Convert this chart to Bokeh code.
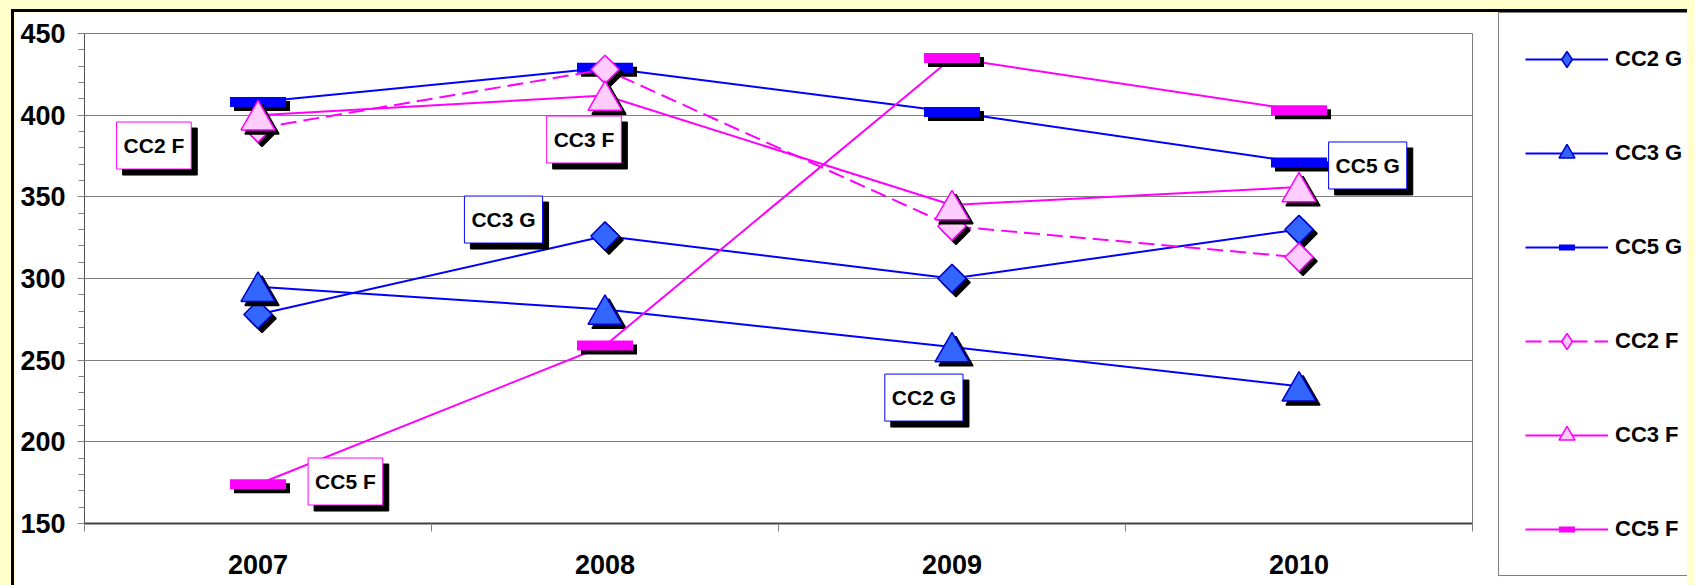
import math
from bokeh.plotting import figure
from bokeh.layouts import row
from bokeh.models import (Range1d, FixedTicker, ColumnDataSource, Legend,
                          LegendItem, Label)
from bokeh.transform import dodge
from bokeh.embed import file_html
from bokeh.resources import INLINE

# ---------------- data ----------------
years = ["2007", "2008", "2009", "2010"]
cc2_g = [278, 326, 300, 330]
cc3_g = [295, 281, 258, 234]
cc5_g = [408, 429, 402, 371]
cc2_f = [392, 428, 332, 313]
cc3_f = [400, 412, 345, 356]
cc5_f = [174, 259, 435, 403]
series_names = ["CC2 G", "CC3 G", "CC5 G", "CC2 F", "CC3 F", "CC5 F"]
series_values = [cc2_g, cc3_g, cc5_g, cc2_f, cc3_f, cc5_f]
y_ticks = [150, 200, 250, 300, 350, 400, 450]

# ---------------- style ----------------
FONT = "Liberation Sans"
BLUE, BFILL, BEDGE = "#0000FF", "#3366FF", "#0000CC"
MAG, PFILL = "#FF00FF", "#FFCCFF"
GRID = "#808080"

styles = {
    "CC2 G": dict(color=BLUE, dash="solid", kind="diamond", fill=BFILL, edge=BEDGE),
    "CC3 G": dict(color=BLUE, dash="solid", kind="triangle", fill=BFILL, edge=BEDGE),
    "CC5 G": dict(color=BLUE, dash="solid", kind="bar", fill=BLUE, edge=BLUE),
    "CC2 F": dict(color=MAG, dash="16 7", kind="diamond", fill=PFILL, edge=MAG),
    "CC3 F": dict(color=MAG, dash="solid", kind="triangle", fill=PFILL, edge=MAG),
    "CC5 F": dict(color=MAG, dash="solid", kind="bar", fill=MAG, edge=MAG),
}

# layout (px)
W_MAIN, W_LEG, H = 1483, 230, 573
FRAME_W, FRAME_H = 1388, 490
B_LEFT, B_TOP = 70, 21
B_RIGHT = W_MAIN - B_LEFT - FRAME_W
B_BOTTOM = H - B_TOP - FRAME_H

Y0, Y1 = 150, 450
PX_X = FRAME_W / len(years)          # px per category
PX_Y = FRAME_H / (Y1 - Y0)           # px per value unit

p = figure(width=W_MAIN, height=H, output_backend="svg", toolbar_location=None,
           x_range=Range1d(0, len(years)), y_range=Range1d(Y0, Y1),
           min_border_left=B_LEFT, min_border_right=B_RIGHT,
           min_border_top=B_TOP, min_border_bottom=B_BOTTOM,
           background_fill_color="white", border_fill_color="white",
           outline_line_color=GRID, outline_line_width=1)
p.frame_align = False

xs = [i + 0.5 for i in range(len(years))]

# axes
xa = p.xaxis[0]
xa.ticker = FixedTicker(ticks=xs, minor_ticks=list(range(len(years) + 1)))
xa.major_label_overrides = {x: y for x, y in zip(xs, years)}
xa.major_tick_line_color = None
xa.major_tick_out = 8
xa.major_tick_in = 0
xa.minor_tick_line_color = GRID
xa.minor_tick_out = 8
xa.minor_tick_in = 0
xa.axis_line_color = "#404040"
xa.axis_line_width = 2
xa.major_label_text_font = FONT
xa.major_label_text_font_style = "bold"
xa.major_label_text_font_size = "27px"
xa.major_label_text_color = "black"
xa.major_label_standoff = 23

ya = p.yaxis[0]
ya.ticker = FixedTicker(ticks=y_ticks, minor_ticks=list(range(Y0, Y1 + 1, 10)))
ya.major_tick_out = 7
ya.major_tick_in = 0
ya.minor_tick_out = 6
ya.minor_tick_in = 0
ya.major_tick_line_color = GRID
ya.minor_tick_line_color = GRID
ya.axis_line_color = "#505050"
ya.axis_line_width = 1
ya.major_label_text_font = FONT
ya.major_label_text_font_style = "bold"
ya.major_label_text_font_size = "27px"
ya.major_label_text_color = "black"
ya.major_label_standoff = 12

p.xgrid.visible = False
p.ygrid.ticker = FixedTicker(ticks=y_ticks)
p.ygrid.grid_line_color = GRID
p.ygrid.grid_line_width = 1

# shadow offsets in data units
SH_X = 4 / PX_X
SH_Y = -4 / PX_Y

# legend figure (frame covers whole canvas; its data lie outside its ranges)
pl = figure(width=W_LEG, height=H, output_backend="svg", toolbar_location=None,
            x_range=Range1d(-20, -10), y_range=Range1d(-20, -10),
            x_axis_location=None, y_axis_location=None,
            min_border_left=0, min_border_right=0, min_border_top=0,
            min_border_bottom=0, background_fill_color="white",
            border_fill_color="white", outline_line_color=None)
pl.frame_align = False
pl.grid.visible = False

legend_items = []
for name, vals in zip(series_names, series_values):
    st = styles[name]
    src = ColumnDataSource(data=dict(x=xs, y=vals))
    p.line("x", "y", source=src, line_color=st["color"], line_width=2,
           line_dash=st["dash"])
    kind = st["kind"]
    ydy = 0.0
    if kind == "diamond":
        mk = dict(marker="square", angle=math.pi / 4, size=20)
    elif kind == "triangle":
        mk = dict(marker="triangle", size=34)
        ydy = -(34 * math.sqrt(3) / 2 / 6) / PX_Y
    else:
        mk = dict(marker="dash", size=56)
    if kind == "bar":
        p.scatter(x=dodge("x", SH_X), y=dodge("y", SH_Y + ydy), source=src,
                  line_color="black", line_width=10, **mk)
        p.scatter(x="x", y="y", source=src, line_color=st["color"],
                  line_width=10, **mk)
    else:
        p.scatter(x=dodge("x", SH_X), y=dodge("y", SH_Y + ydy), source=src,
                  fill_color="black", line_color="black", line_width=1.5, **mk)
        p.scatter(x="x", y=dodge("y", ydy), source=src, fill_color=st["fill"],
                  line_color=st["edge"], line_width=1.5, **mk)

    # legend entries, drawn in the legend figure
    ll = pl.line("x", "y", source=src, line_color=st["color"], line_width=2,
                 line_dash=st["dash"])
    if kind == "diamond":
        lm = pl.scatter("x", "y", source=src, marker="diamond",
                        fill_color=st["fill"], line_color=st["edge"], line_width=1.5)
    elif kind == "triangle":
        lm = pl.scatter("x", "y", source=src, marker="triangle",
                        fill_color=st["fill"], line_color=st["edge"], line_width=1.5)
    else:
        lm = pl.scatter("x", "y", source=src, marker="dash",
                        line_color=st["color"], line_width=6)
    legend_items.append(LegendItem(label=name, renderers=[ll, lm]))

legend = Legend(items=legend_items, location=(1, 9), orientation="vertical",
                border_line_color="black", border_line_width=1.5,
                background_fill_color="white", background_fill_alpha=1.0,
                padding=26, spacing=54, margin=0,
                glyph_width=83, glyph_height=40, label_height=40,
                label_standoff=7, label_text_font=FONT,
                label_text_font_style="bold", label_text_font_size="22px",
                label_text_color="black", click_policy="none")
pl.add_layout(legend)

# data label boxes (positions: category units, value units)
label_boxes = [
    ("CC2 F", 0.200, 381.4, MAG),
    ("CC3 F", 1.4395, 385.1, MAG),
    ("CC3 G", 1.2075, 336.1, BLUE),
    ("CC5 F", 0.752, 175.7, MAG),
    ("CC2 G", 2.419, 227.1, BLUE),
    ("CC5 G", 3.698, 369.2, BLUE),
]
for txt, lx, ly, col in label_boxes:
    common = dict(x=lx, y=ly, text=txt, text_align="center", text_baseline="middle",
                  text_font=FONT, text_font_style="bold", text_font_size="21px",
                  padding=dict(x=7, y=12))
    p.add_layout(Label(x_offset=6, y_offset=-6, text_color="black",
                       background_fill_color="black", border_line_color="black",
                       **common))
    p.add_layout(Label(text_color="black", background_fill_color="white",
                       border_line_color=col, border_line_width=1, **common))

layout = row(p, pl, spacing=0)
layout.styles = {"margin-left": "3px", "margin-top": "1px",
                 "border-left": "3px solid black", "border-top": "3px solid black"}

html = file_html(layout, INLINE)
html = html.replace(
    "</head>",
    "<style>html{background:#FFFFCC;overflow:hidden;}"
    "body{background:#FFFFCC;overflow:visible;margin:8px !important;padding:0 !important;}</style></head>",
    1)
open("out.html", "w").write(html)
